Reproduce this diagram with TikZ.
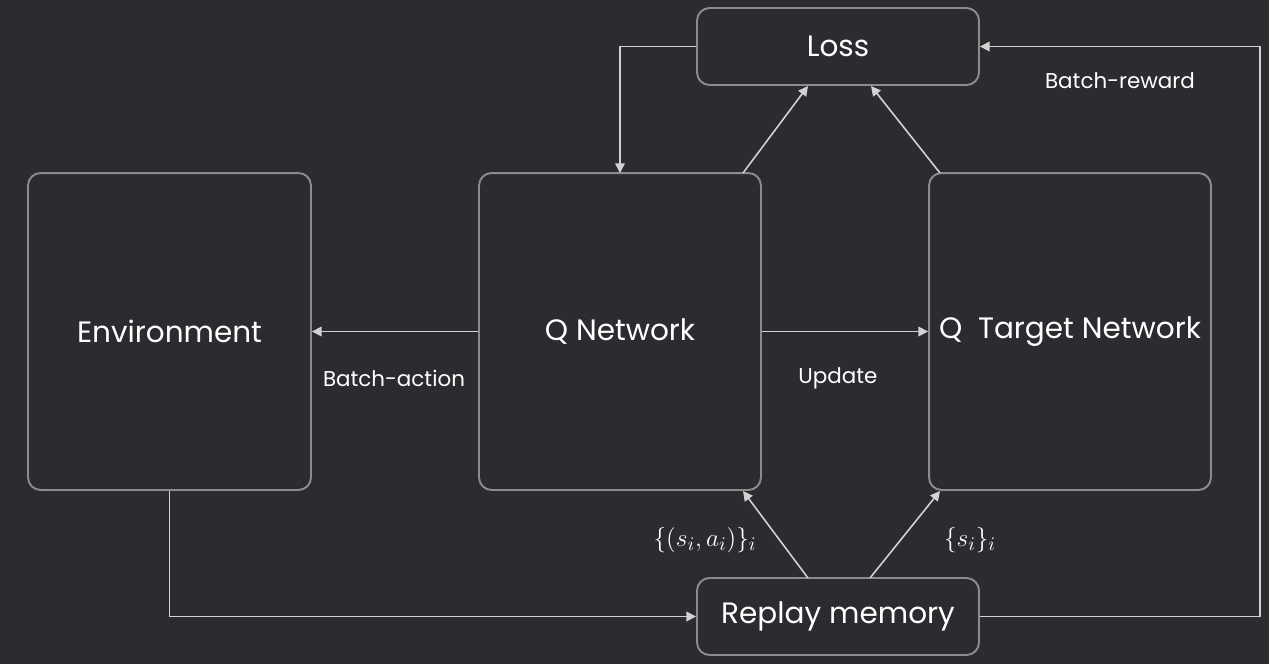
\documentclass[tikz,border=0pt]{standalone}
\usepackage{fontspec}
\setmainfont{Poppins}
\usepackage{tikz}
\usetikzlibrary{arrows.meta}
\definecolor{bgdark}{HTML}{2B2C2F}
\definecolor{boxline}{HTML}{8C8C8C}
\definecolor{arrline}{HTML}{D2D2D2}

\begin{document}
\begin{tikzpicture}[x=0.02cm,y=-0.02cm,
    blok/.style={draw=boxline, line width=1.1pt, rounded corners=0.25cm, text=white, font=\fontsize{16.8}{19}\selectfont, inner sep=0pt},
    pijl/.style={draw=arrline, line width=0.9pt, -{Triangle[length=5.5pt,width=5.5pt]}},
    lbl/.style={text=white, font=\fontsize{12.2}{14}\selectfont}]
			\fill[bgdark] (0,0) rectangle (1269,664);
			\useasboundingbox (0,0) rectangle (1269,664);
			
			\node[blok, minimum width=5.64cm, minimum height=1.54cm] (loss) at (838,46.5) {Loss};
			\node[blok, minimum width=5.64cm, minimum height=1.54cm] (replay) at (838,616.5) {Replay memory};
			\node[blok, minimum width=5.66cm, minimum height=6.34cm] (env) at (169.5,331.5) {Environment};
			\node[blok, minimum width=5.64cm, minimum height=6.34cm] (qnet) at (620,331.5) {Q Network};
			\node[blok, minimum width=5.64cm, minimum height=6.34cm] (qtar) at (1070,331.5) {Q\ \ Target Network};
			
			\coordinate (qtop) at (620,173);
			\coordinate (rr) at (1260,616.5);
			\coordinate (rt) at (1260,46.5);
			\coordinate (eb) at (169.5,616.5);
			
			\draw[pijl] (loss.west) -| (qtop);
			\draw[pijl] (743,173) -- (808,86);
			\draw[pijl] (940,173) -- (871,86);
			\draw[pijl] (replay.east) -- (rr) -- (rt) -- (loss.east);
			\draw[pijl] (qnet.west) -- (env.east);
			\draw[pijl] (qnet.east) -- (qtar.west);
			\draw[pijl] (env.south) -- (eb) -- (replay.west);
			\draw[pijl] (808,578) -- (743,491);
			\draw[pijl] (870,578) -- (940,491);
			
			\node[lbl] (brew) at (1120,81) {Batch-reward};
			\node[lbl] (bact) at (394,378) {Batch-action};
			\node[lbl] (upd) at (838,378) {Update};
			\node[lbl, font=\fontsize{15}{17}\selectfont] (sa) at (705,540) {$\{(s_i,a_i)\}_i$};
			\node[lbl, font=\fontsize{15}{17}\selectfont] (si) at (970,540) {$\{s_i\}_i$};
		\end{tikzpicture}
\end{document}
